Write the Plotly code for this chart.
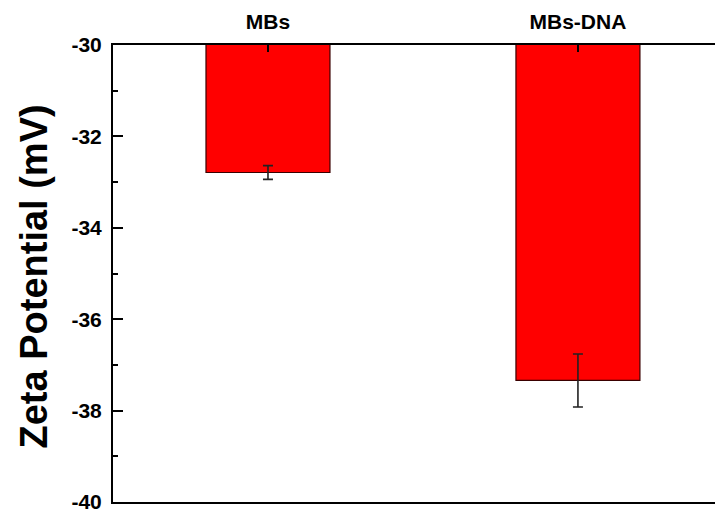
import plotly.graph_objects as go

categories = ["MBs", "MBs-DNA"]
zeta_values = [-32.79, -37.34]
zeta_errors = [0.15, 0.58]
y_tick_values = [-40, -38, -36, -34, -32, -30]
y_tick_labels = ["-40", "-38", "-36", "-34", "-32", "-30"]
y_title = "Zeta Potential (mV)"

FONT = "Liberation Sans, Arial, sans-serif"

fig = go.Figure()
fig.add_trace(go.Bar(
    x=categories,
    y=zeta_values,
    width=0.4,
    marker=dict(color="#ff0000", line=dict(color="#3a0000", width=1.2)),
    error_y=dict(type="data", array=zeta_errors, visible=True,
                 color="#222222", thickness=1.6, width=5),
))

# page body has an 8px default margin; compensate so the plot lands where the reference has it
fig.update_layout(
    width=715, height=505,
    margin=dict(l=105, r=0, t=37, b=11, autoexpand=False),
    plot_bgcolor="white", paper_bgcolor="white",
    showlegend=False,
    font=dict(family=FONT, color="black"),
)
fig.update_xaxes(
    side="top", type="category", range=[-0.5, 1.468],
    showline=True, linecolor="black", linewidth=2, mirror=True,
    ticks="inside", ticklen=7, tickwidth=2, tickcolor="black",
    ticklabelstandoff=6, automargin=False, ticklabeloverflow="allow",
    tickfont=dict(size=21, family=FONT, weight="bold"),
    showgrid=False, zeroline=False,
)
fig.update_yaxes(
    range=[-40, -30], tickvals=y_tick_values, ticktext=y_tick_labels,
    showline=True, linecolor="black", linewidth=2,
    ticks="inside", ticklen=10, tickwidth=2, tickcolor="black",
    minor=dict(dtick=1, ticks="inside", ticklen=5, tickwidth=2, tickcolor="black", showgrid=False),
    ticklabelstandoff=5, automargin=False, ticklabeloverflow="allow",
    tickfont=dict(size=21, family=FONT, weight="bold"),
    showgrid=False, zeroline=False,
)
fig.add_annotation(
    text=y_title, textangle=-90, showarrow=False,
    xref="paper", yref="paper", x=0, y=0.5,
    xanchor="center", yanchor="middle", xshift=-80, yshift=-3,
    font=dict(size=38, family=FONT, weight="bold", color="black"),
)

fig.write_html("out.html")
